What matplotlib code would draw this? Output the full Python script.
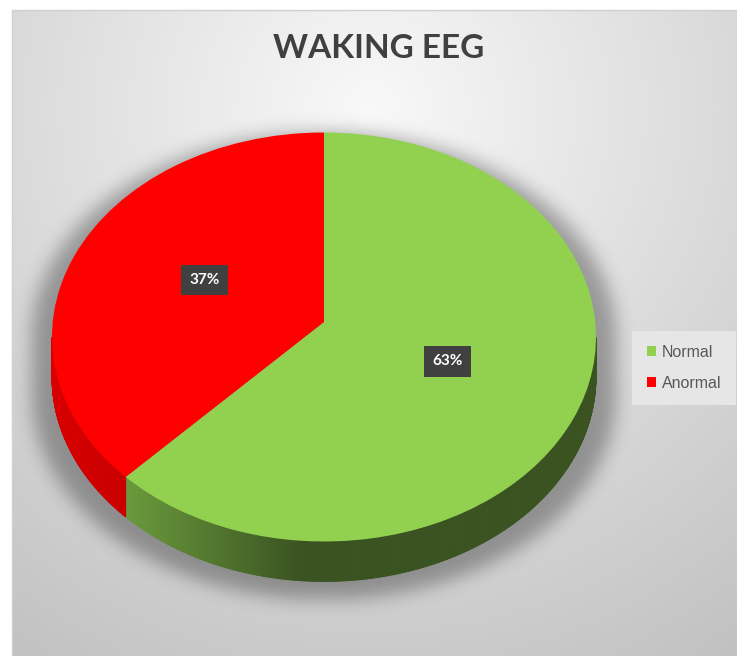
import numpy as np
import matplotlib
matplotlib.use("Agg")
import matplotlib.pyplot as plt
from matplotlib.collections import PolyCollection
from matplotlib.patches import Rectangle
from matplotlib.path import Path
import matplotlib.colors as mcolors

# ---- data ----
title = "WAKING EEG"
categories = ["Normal", "Anormal"]
values = [63, 37]
top_colors = ["#92d050", "#ff0000"]

W, H = 737, 656
fig = plt.figure(figsize=(W / 100, H / 100), dpi=100)
fig.patch.set_facecolor("white")

# ---- background axes in pixel coords ----
axb = fig.add_axes([0, 0, 1, 1])
axb.set_xlim(0, W)
axb.set_ylim(H, 0)
axb.axis("off")

x0, y0 = 12, 10
xs = np.arange(x0, W) + 0.5
ys = np.arange(y0, H) + 0.5
X, Y = np.meshgrid(xs, ys)
r = np.sqrt(((X - 370) / 600) ** 2 + ((Y - 110) / 600) ** 2)
v = 0.975 - 0.20 * np.clip(r, 0, 1.2)
bg = np.dstack([v, v, v])
axb.imshow(bg, extent=(x0, W, H, y0), interpolation="bilinear", zorder=0)
axb.add_patch(Rectangle((x0, y0), W - x0, H - y0, fill=False, ec="#d0d0d0", lw=1, zorder=1))

# ---- pie geometry (pixels) ----
cx, cy, a, b, depth = 324, 337, 272, 204.5, 40
top_center_shift = 15  # perspective: visual centre of the top face sits higher

# soft shadow
mask = np.zeros_like(X)
for sy in np.linspace(cy + 0, cy + 58, 30):
    mask = np.maximum(mask, (((X - cx) / (a + 20)) ** 2 + ((Y - sy) / b) ** 2 <= 1).astype(float))

def blur(img, sigma):
    k = np.arange(-3 * sigma, 3 * sigma + 1)
    g = np.exp(-k ** 2 / (2 * sigma ** 2))
    g /= g.sum()
    img = np.apply_along_axis(lambda m: np.convolve(m, g, mode="same"), 0, img)
    img = np.apply_along_axis(lambda m: np.convolve(m, g, mode="same"), 1, img)
    return img

sh = blur(mask, 9)
shadow = np.zeros((sh.shape[0], sh.shape[1], 4))
shadow[..., 3] = 0.32 * sh
axb.imshow(shadow, extent=(x0, W, H, y0), interpolation="bilinear", zorder=2)

# ---- pie axes: unit circle -> ellipse ----
ax = fig.add_axes([0, 0, 1, 1])
ax.patch.set_alpha(0)
d = depth / b

# side walls
fracs = np.array(values, float) / sum(values)
start = 90.0
side_polys, side_cols = [], []
green_light = np.array(mcolors.to_rgb("#6b9b3c"))
green_dark = np.array(mcolors.to_rgb("#3a5321"))
red_side = np.array(mcolors.to_rgb("#c80000"))
red_light = np.array(mcolors.to_rgb("#d80000"))
for i, f in enumerate(fracs):
    t1 = start - 360 * f
    t2 = start
    start = t1
    th = np.linspace(t1, t2, 600)
    for k in range(len(th) - 1):
        ta, tb = th[k], th[k + 1]
        tm = 0.5 * (ta + tb)
        if np.sin(np.radians(tm)) >= 0:
            continue
        ca, sa = np.cos(np.radians(ta)), np.sin(np.radians(ta))
        cb, sb = np.cos(np.radians(tb)), np.sin(np.radians(tb))
        side_polys.append([(ca, sa), (cb, sb), (cb, sb - d), (ca, sa - d)])
        xm = np.cos(np.radians(tm))
        if i == 0:
            tt = np.clip((xm + 0.73) / 0.65, 0, 1)
            c = green_light * (1 - tt) + green_dark * tt
        else:
            tt = np.clip((xm + 1.0) / 0.3, 0, 1)
            c = red_light * (1 - tt) + red_side * tt
        side_cols.append(c)
ax.add_collection(PolyCollection(side_polys, facecolors=side_cols, edgecolors=side_cols, linewidths=0.6, zorder=1))

wedges, texts, autotexts = ax.pie(
    values, colors=top_colors, startangle=90, counterclock=False,
    autopct="%1.0f%%", pctdistance=0.5, wedgeprops=dict(linewidth=0),
    textprops=dict(color="white", fontsize=11, fontweight="bold", family=["Lato", "DejaVu Sans"]))
dy = top_center_shift / b
for w in wedges:
    w.set_zorder(2)
    p = w.get_path()
    verts = p.vertices.copy()
    ctr = np.hypot(verts[:, 0], verts[:, 1]) < 1e-9
    verts[ctr, 1] += dy
    w._path = Path(verts, p.codes)
label_dx = [-0.005, 0.02]
for t, ddx in zip(autotexts, label_dx):
    xx, yy = t.get_position()
    t.set_position((xx + ddx, yy + 0.08))
    t.set_zorder(5)
    t.set_bbox(dict(boxstyle="square,pad=0.55", fc="#404040", ec="none"))

ax.set_aspect("auto")
ax.set_xlim((0 - cx) / a, (W - cx) / a)
ax.set_ylim((cy - H) / b, (cy - 0) / b)
ax.axis("off")

# ---- legend ----
leg = ax.legend(wedges, categories, loc="center", bbox_to_anchor=(684 / W, 1 - 368 / H),
                bbox_transform=fig.transFigure, frameon=True, fancybox=False,
                facecolor="#e6e6e6", edgecolor="none", framealpha=1,
                handlelength=0.6, handleheight=0.6, handletextpad=0.35,
                labelspacing=1.0, borderpad=0.9,
                prop=dict(family=["Liberation Sans", "DejaVu Sans"], size=11.5))
for t in leg.get_texts():
    t.set_color("#595959")

# ---- title ----
fig.text(378.5 / W, 1 - 49 / H, title, ha="center", va="center", fontsize=24,
         fontweight="bold", color="#404040", family=["Lato", "DejaVu Sans"])

fig.savefig("out.png", dpi=100)
